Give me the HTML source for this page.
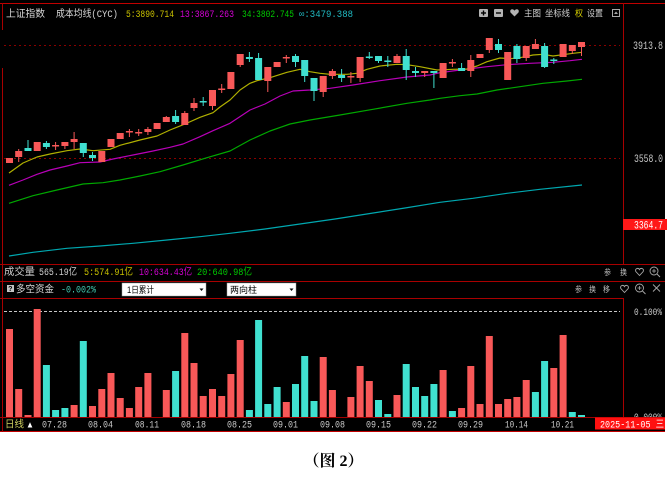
<!DOCTYPE html>
<html><head><meta charset="utf-8"><style>
html,body{margin:0;padding:0;background:#fff;}
svg{display:block;}
text{font-family:"Liberation Mono","Noto Sans CJK SC",monospace;font-size:10px;}
.c{font-family:"Liberation Sans","Noto Sans CJK SC",sans-serif;}
</style></head><body>
<svg width="667" height="479" viewBox="0 0 667 479" xmlns="http://www.w3.org/2000/svg">
<rect width="667" height="479" fill="#fff"/>
<rect x="0" y="0" width="665" height="432" fill="#000"/>

<g stroke="#a80000" stroke-width="1">
<line x1="0" y1="3.5" x2="665" y2="3.5" stroke="#c00000"/>
<line x1="2.5" y1="3" x2="2.5" y2="30"/>
<line x1="2.5" y1="68" x2="2.5" y2="432"/>
<line x1="623.5" y1="3" x2="623.5" y2="264"/>
<line x1="0" y1="264.5" x2="665" y2="264.5"/>
<line x1="0" y1="281.5" x2="665" y2="281.5"/>
<line x1="0" y1="298.5" x2="623" y2="298.5"/>
<line x1="623.5" y1="298" x2="623.5" y2="417"/>
</g>

<g stroke="#8a0000" stroke-width="1" stroke-dasharray="2,3">
<line x1="4" y1="45.5" x2="620" y2="45.5"/>
<line x1="4" y1="158.5" x2="620" y2="158.5"/>
</g>
<line x1="4" y1="311.5" x2="620" y2="311.5" stroke="#c8c8c8" stroke-dasharray="3,2"/>

<text class="c" x="6" y="17" textLength="39" lengthAdjust="spacingAndGlyphs" fill="#d8d8d8">上证指数</text>
<text x="56" y="17" textLength="62" lengthAdjust="spacingAndGlyphs" fill="#d8d8d8">成本均线(CYC)</text>
<text x="126" y="17" textLength="48" lengthAdjust="spacingAndGlyphs" fill="#c8c000">5:3890.714</text>
<text x="180" y="17" textLength="54" lengthAdjust="spacingAndGlyphs" fill="#d400d4">13:3867.263</text>
<text x="242" y="17" textLength="52" lengthAdjust="spacingAndGlyphs" fill="#00c800">34:3802.745</text>
<text x="299" y="17" textLength="54" lengthAdjust="spacingAndGlyphs" fill="#20b8c0">∞:3479.388</text>

<rect x="479" y="9" width="9" height="8" rx="1" fill="#b4b4b4"/>
<line x1="481" y1="13" x2="486" y2="13" stroke="#000" stroke-width="1.4"/>
<line x1="483.5" y1="10.5" x2="483.5" y2="15.5" stroke="#000" stroke-width="1.4"/>
<rect x="494" y="9" width="9" height="8" rx="1" fill="#b4b4b4"/>
<line x1="496" y1="13" x2="501" y2="13" stroke="#000" stroke-width="1.4"/>
<path d="M514.5 16.5 L510.5 12.5 Q509.5 10 511.8 9.3 Q513.5 9 514.5 10.6 Q515.5 9 517.2 9.3 Q519.5 10 518.5 12.5 Z" fill="#b4b4b4"/>
<text class="c" x="524" y="16.5" textLength="17" lengthAdjust="spacingAndGlyphs" fill="#cfcfcf" style="font-size:9px">主图</text>
<text class="c" x="545" y="16.5" textLength="25" lengthAdjust="spacingAndGlyphs" fill="#cfcfcf" style="font-size:9px">坐标线</text>
<text class="c" x="575" y="16.5" textLength="8" lengthAdjust="spacingAndGlyphs" fill="#d8d000" style="font-size:9px">权</text>
<text class="c" x="587" y="16.5" textLength="16" lengthAdjust="spacingAndGlyphs" fill="#cfcfcf" style="font-size:9px">设置</text>
<rect x="612.5" y="9.5" width="7" height="7" fill="none" stroke="#a8a8a8"/>
<path d="M614 14 L616 11.5 L618 14 Z" fill="#a8a8a8"/>

<text x="633" y="49" textLength="30" lengthAdjust="spacingAndGlyphs" fill="#c8c8c8" style="font-size:11px">3913.8</text>
<text x="634" y="162" textLength="29" lengthAdjust="spacingAndGlyphs" fill="#c8c8c8" style="font-size:11px">3558.0</text>
<rect x="623" y="219" width="44" height="11" fill="#ff1818"/>
<text x="634" y="228.5" textLength="29" lengthAdjust="spacingAndGlyphs" fill="#fff" style="font-size:11px">3364.7</text>

<g fill="none" stroke-width="1.2" stroke-linejoin="round">
<polyline stroke="#00a8b0" points="9,256 33,252.3 67,248.3 100,246 133,243.3 167,240 200,236.7 230,233.3 265,229 300,224 335,219 370,213.5 405,208 440,202.3 473,198.3 507,193.3 540,189.3 582,185"/>
<polyline stroke="#00a800" points="9,203.3 33,195.7 57,190 83,184 103,182.7 120,180 140,176 160,171.7 183,165 207,157.7 230,151 250,140 270,131 290,124 310,120 340,115 373,109.3 407,103.3 430,100 440,98.3 460,95.7 477,94 497,90 520,86.7 543,83.3 567,81 582,79.3"/>
<polyline stroke="#b800b8" points="9,185.3 23,180 37,174.3 50,170 67,166 80,162.7 100,162 113,159 133,155 153,151 170,147.3 183,144 200,136.7 213,130.7 230,123.3 250,110 265,104 280,96 293,91 310,90 330,88.3 353,85 380,80.7 407,77 430,75 440,72.7 460,70 487,66.7 507,64.7 530,63.3 553,62.3 570,60.7 582,59.3"/>
<polyline stroke="#b0b000" points="9,173 23,163 37,157 50,154 67,150.7 80,149 93,150.7 110,149.3 120,145.3 140,140 157,136 170,130 185,124 200,117.3 213,112.7 220,107 230,100 240,90 250,83.3 257,80.7 270,77.7 287,72.3 300,69.3 310,71.7 320,73.3 330,74.3 347,74.3 357,73.3 367,69.3 380,66 397,64.3 407,64.7 420,66.7 437,70 453,69.3 467,69 477,66 487,61.7 500,58 510,58.7 520,57.7 533,55 543,54.3 553,56 563,54.7 573,53.3 582,52.3"/>
</g>

<g stroke="#f85858" stroke-width="1">
<line x1="18.7" y1="149" x2="18.7" y2="162"/>
<line x1="55.6" y1="142" x2="55.6" y2="150"/>
<line x1="64.9" y1="142" x2="64.9" y2="149"/>
<line x1="74.1" y1="132" x2="74.1" y2="149"/>
<line x1="129.4" y1="129" x2="129.4" y2="137"/>
<line x1="138.7" y1="129" x2="138.7" y2="136"/>
<line x1="147.9" y1="127" x2="147.9" y2="135"/>
<line x1="166.3" y1="116" x2="166.3" y2="122"/>
<line x1="184.8" y1="111" x2="184.8" y2="125"/>
<line x1="194" y1="98" x2="194" y2="111"/>
<line x1="212.5" y1="90" x2="212.5" y2="110"/>
<line x1="221.7" y1="84" x2="221.7" y2="93"/>
<line x1="240.2" y1="54" x2="240.2" y2="67"/>
<line x1="267.8" y1="67" x2="267.8" y2="92"/>
<line x1="286.3" y1="55" x2="286.3" y2="63"/>
<line x1="323.2" y1="76" x2="323.2" y2="97"/>
<line x1="332.4" y1="69" x2="332.4" y2="79"/>
<line x1="350.9" y1="72" x2="350.9" y2="83"/>
<line x1="360.1" y1="57" x2="360.1" y2="82"/>
<line x1="397" y1="54" x2="397" y2="63"/>
<line x1="424.7" y1="71" x2="424.7" y2="77"/>
<line x1="452.4" y1="59" x2="452.4" y2="67"/>
<line x1="470.8" y1="55" x2="470.8" y2="77"/>
<line x1="489.3" y1="38" x2="489.3" y2="53"/>
<line x1="526.2" y1="46" x2="526.2" y2="61"/>
<line x1="535.4" y1="39" x2="535.4" y2="49"/>
<line x1="572.3" y1="45" x2="572.3" y2="54"/>
<line x1="581.5" y1="42" x2="581.5" y2="56"/>
</g>
<g fill="#f85858">
<rect x="6" y="158" width="7" height="5"/>
<rect x="15.2" y="151" width="7" height="6"/>
<rect x="33.7" y="142" width="7" height="9"/>
<rect x="52.1" y="145" width="7" height="1.5"/>
<rect x="61.4" y="142" width="7" height="4"/>
<rect x="70.6" y="139" width="7" height="3"/>
<rect x="98.3" y="151" width="7" height="11"/>
<rect x="107.5" y="139" width="7" height="8"/>
<rect x="116.7" y="133" width="7" height="6"/>
<rect x="125.9" y="131" width="7" height="1.5"/>
<rect x="135.2" y="132" width="7" height="1.5"/>
<rect x="144.4" y="129" width="7" height="3"/>
<rect x="153.6" y="123" width="7" height="6"/>
<rect x="162.8" y="117" width="7" height="5"/>
<rect x="181.3" y="113" width="7" height="12"/>
<rect x="190.5" y="103" width="7" height="5"/>
<rect x="209" y="90" width="7" height="16"/>
<rect x="218.2" y="88.5" width="7" height="1.5"/>
<rect x="227.4" y="72" width="7" height="17"/>
<rect x="236.7" y="54" width="7" height="11"/>
<rect x="264.3" y="67" width="7" height="14"/>
<rect x="273.6" y="62" width="7" height="5"/>
<rect x="282.8" y="57" width="7" height="1.5"/>
<rect x="319.7" y="76" width="7" height="16"/>
<rect x="328.9" y="71" width="7" height="5"/>
<rect x="347.4" y="76" width="7" height="1.5"/>
<rect x="356.6" y="57" width="7" height="21"/>
<rect x="393.5" y="56" width="7" height="7"/>
<rect x="421.2" y="71" width="7" height="2"/>
<rect x="439.6" y="63" width="7" height="15"/>
<rect x="448.9" y="62" width="7" height="1.5"/>
<rect x="467.3" y="60" width="7" height="11"/>
<rect x="476.5" y="54" width="7" height="4"/>
<rect x="485.8" y="38" width="7" height="12"/>
<rect x="504.2" y="52" width="7" height="28"/>
<rect x="522.7" y="46" width="7" height="12"/>
<rect x="531.9" y="44" width="7" height="5"/>
<rect x="559.6" y="44" width="7" height="13"/>
<rect x="568.8" y="45" width="7" height="6"/>
<rect x="578" y="42" width="7" height="5"/>
</g>

<g stroke="#40e0d0" stroke-width="1">
<line x1="28" y1="140" x2="28" y2="151"/>
<line x1="46.4" y1="141" x2="46.4" y2="149"/>
<line x1="83.3" y1="143" x2="83.3" y2="157"/>
<line x1="92.5" y1="152" x2="92.5" y2="161"/>
<line x1="175.6" y1="110" x2="175.6" y2="124"/>
<line x1="203.2" y1="97" x2="203.2" y2="106"/>
<line x1="249.4" y1="52" x2="249.4" y2="62"/>
<line x1="258.6" y1="53" x2="258.6" y2="80"/>
<line x1="295.5" y1="54" x2="295.5" y2="67"/>
<line x1="304.7" y1="60" x2="304.7" y2="82"/>
<line x1="314" y1="78" x2="314" y2="101"/>
<line x1="341.6" y1="69" x2="341.6" y2="82"/>
<line x1="369.3" y1="52" x2="369.3" y2="59"/>
<line x1="378.5" y1="56" x2="378.5" y2="63"/>
<line x1="387.8" y1="56" x2="387.8" y2="67"/>
<line x1="406.2" y1="49" x2="406.2" y2="80"/>
<line x1="415.5" y1="67" x2="415.5" y2="77"/>
<line x1="433.9" y1="71" x2="433.9" y2="88"/>
<line x1="461.6" y1="63" x2="461.6" y2="71"/>
<line x1="498.5" y1="39" x2="498.5" y2="53"/>
<line x1="516.9" y1="44" x2="516.9" y2="63"/>
<line x1="544.6" y1="43" x2="544.6" y2="68"/>
<line x1="553.8" y1="58" x2="553.8" y2="64"/>
</g>
<g fill="#40e0d0">
<rect x="24.5" y="148" width="7" height="3"/>
<rect x="42.9" y="143" width="7" height="4"/>
<rect x="79.8" y="143" width="7" height="10"/>
<rect x="89" y="155" width="7" height="3"/>
<rect x="172.1" y="116" width="7" height="6"/>
<rect x="199.7" y="101" width="7" height="1.5"/>
<rect x="245.9" y="57" width="7" height="2"/>
<rect x="255.1" y="58" width="7" height="22"/>
<rect x="292" y="56" width="7" height="6"/>
<rect x="301.2" y="60" width="7" height="16"/>
<rect x="310.5" y="78" width="7" height="13"/>
<rect x="338.1" y="75" width="7" height="3"/>
<rect x="365.8" y="56.5" width="7" height="1.5"/>
<rect x="375" y="56" width="7" height="5"/>
<rect x="384.3" y="60.5" width="7" height="1.5"/>
<rect x="402.7" y="56" width="7" height="14"/>
<rect x="412" y="71" width="7" height="2"/>
<rect x="430.4" y="71" width="7" height="2"/>
<rect x="458.1" y="68" width="7" height="3"/>
<rect x="495" y="44" width="7" height="6"/>
<rect x="513.4" y="46" width="7" height="13"/>
<rect x="541.1" y="46" width="7" height="21"/>
<rect x="550.3" y="59.5" width="7" height="1.5"/>
</g>

<text class="c" x="4" y="275" textLength="31" lengthAdjust="spacingAndGlyphs" fill="#cfcfcf">成交量</text>
<text x="39" y="275" textLength="38" lengthAdjust="spacingAndGlyphs" fill="#cfcfcf">565.19亿</text>
<text x="84" y="275" textLength="49" lengthAdjust="spacingAndGlyphs" fill="#c8c000">5:574.91亿</text>
<text x="139" y="275" textLength="53" lengthAdjust="spacingAndGlyphs" fill="#d400d4">10:634.43亿</text>
<text x="197" y="275" textLength="55" lengthAdjust="spacingAndGlyphs" fill="#00c800">20:640.98亿</text>
<text class="c" x="604" y="275" textLength="7" lengthAdjust="spacingAndGlyphs" fill="#bdbdbd" style="font-size:8px">参</text>
<text class="c" x="620" y="275" textLength="7" lengthAdjust="spacingAndGlyphs" fill="#bdbdbd" style="font-size:8px">换</text>
<path d="M639.5 275.5 L635.8 271.5 Q635 269 637.2 268.4 Q638.8 268.2 639.5 269.6 Q640.2 268.2 641.8 268.4 Q644 269 643.2 271.5 Z" fill="none" stroke="#a8a8a8" stroke-width="0.9"/>
<circle cx="654" cy="271" r="4" fill="none" stroke="#a8a8a8" stroke-width="0.9"/>
<line x1="652" y1="271" x2="656" y2="271" stroke="#a8a8a8" stroke-width="0.8"/>
<line x1="654" y1="269" x2="654" y2="273" stroke="#a8a8a8" stroke-width="0.8"/>
<line x1="657" y1="274" x2="660" y2="277" stroke="#a8a8a8" stroke-width="0.9"/>

<rect x="7" y="285" width="7" height="7" fill="#c4c4c4"/>
<text x="8.2" y="291.2" fill="#000" style="font-size:7px;font-weight:bold">?</text>
<text class="c" x="16" y="292.5" textLength="38" lengthAdjust="spacingAndGlyphs" fill="#d8d8d8">多空资金</text>
<text x="61" y="292.5" textLength="35" lengthAdjust="spacingAndGlyphs" fill="#40c8b0">-0.002%</text>
<rect x="122" y="283" width="84" height="13" fill="#fff" stroke="#999" stroke-width="0.5"/>
<text class="c" x="127" y="293" textLength="27" lengthAdjust="spacingAndGlyphs" fill="#000" style="font-size:9px">1日累计</text>
<path d="M199.5 288.5 L203.5 288.5 L201.5 291 Z" fill="#000"/>
<rect x="227" y="283" width="69" height="13" fill="#fff" stroke="#999" stroke-width="0.5"/>
<text class="c" x="230" y="293" textLength="27" lengthAdjust="spacingAndGlyphs" fill="#000" style="font-size:9px">两向柱</text>
<path d="M289.5 288.5 L293.5 288.5 L291.5 291 Z" fill="#000"/>
<text class="c" x="575" y="292" textLength="7" lengthAdjust="spacingAndGlyphs" fill="#bdbdbd" style="font-size:8px">参</text>
<text class="c" x="589" y="292" textLength="7" lengthAdjust="spacingAndGlyphs" fill="#bdbdbd" style="font-size:8px">换</text>
<text class="c" x="603" y="292" textLength="7" lengthAdjust="spacingAndGlyphs" fill="#bdbdbd" style="font-size:8px">移</text>
<path d="M624.5 292.5 L620.8 288.5 Q620 286 622.2 285.4 Q623.8 285.2 624.5 286.6 Q625.2 285.2 626.8 285.4 Q629 286 628.2 288.5 Z" fill="none" stroke="#a8a8a8" stroke-width="0.9"/>
<circle cx="639.5" cy="288" r="4" fill="none" stroke="#a8a8a8" stroke-width="0.9"/>
<line x1="637.5" y1="288" x2="641.5" y2="288" stroke="#a8a8a8" stroke-width="0.8"/>
<line x1="639.5" y1="286" x2="639.5" y2="290" stroke="#a8a8a8" stroke-width="0.8"/>
<line x1="642.5" y1="291" x2="645.5" y2="294" stroke="#a8a8a8" stroke-width="0.9"/>
<line x1="653" y1="284.5" x2="660" y2="291.5" stroke="#a8a8a8" stroke-width="0.9"/>
<line x1="660" y1="284.5" x2="653" y2="291.5" stroke="#a8a8a8" stroke-width="0.9"/>

<text x="634" y="315" textLength="28" lengthAdjust="spacingAndGlyphs" fill="#c8c8c8">0.100%</text>
<text x="634" y="420" textLength="28" lengthAdjust="spacingAndGlyphs" fill="#c8c8c8">0.000%</text>

<g fill="#f85858">
<rect x="6" y="329" width="7" height="88"/>
<rect x="15.2" y="389" width="7" height="28"/>
<rect x="24.5" y="415" width="7" height="2"/>
<rect x="33.7" y="309" width="7" height="108"/>
<rect x="70.6" y="405" width="7" height="12"/>
<rect x="89" y="406" width="7" height="11"/>
<rect x="98.3" y="389" width="7" height="28"/>
<rect x="107.5" y="373" width="7" height="44"/>
<rect x="116.7" y="398" width="7" height="19"/>
<rect x="125.9" y="408" width="7" height="9"/>
<rect x="135.2" y="387" width="7" height="30"/>
<rect x="144.4" y="373" width="7" height="44"/>
<rect x="162.8" y="390" width="7" height="27"/>
<rect x="181.3" y="333" width="7" height="84"/>
<rect x="190.5" y="363" width="7" height="54"/>
<rect x="199.7" y="396" width="7" height="21"/>
<rect x="209" y="389" width="7" height="28"/>
<rect x="218.2" y="396" width="7" height="21"/>
<rect x="227.4" y="374" width="7" height="43"/>
<rect x="236.7" y="340" width="7" height="77"/>
<rect x="282.8" y="402" width="7" height="15"/>
<rect x="319.7" y="357" width="7" height="60"/>
<rect x="328.9" y="390" width="7" height="27"/>
<rect x="347.4" y="397" width="7" height="20"/>
<rect x="356.6" y="366" width="7" height="51"/>
<rect x="365.8" y="381" width="7" height="36"/>
<rect x="393.5" y="395" width="7" height="22"/>
<rect x="439.6" y="370" width="7" height="47"/>
<rect x="458.1" y="408" width="7" height="9"/>
<rect x="467.3" y="366" width="7" height="51"/>
<rect x="476.5" y="404" width="7" height="13"/>
<rect x="485.8" y="336" width="7" height="81"/>
<rect x="495" y="404" width="7" height="13"/>
<rect x="504.2" y="399" width="7" height="18"/>
<rect x="513.4" y="397" width="7" height="20"/>
<rect x="522.7" y="380" width="7" height="37"/>
<rect x="550.3" y="368" width="7" height="49"/>
<rect x="559.6" y="335" width="7" height="82"/>
</g>
<g fill="#40e0d0">
<rect x="42.9" y="365" width="7" height="52"/>
<rect x="52.1" y="410" width="7" height="7"/>
<rect x="61.4" y="408" width="7" height="9"/>
<rect x="79.8" y="341" width="7" height="76"/>
<rect x="172.1" y="371" width="7" height="46"/>
<rect x="245.9" y="410" width="7" height="7"/>
<rect x="255.1" y="320" width="7" height="97"/>
<rect x="264.3" y="404" width="7" height="13"/>
<rect x="273.6" y="387" width="7" height="30"/>
<rect x="292" y="384" width="7" height="33"/>
<rect x="301.2" y="356" width="7" height="61"/>
<rect x="310.5" y="401" width="7" height="16"/>
<rect x="375" y="400" width="7" height="17"/>
<rect x="384.3" y="414" width="7" height="3"/>
<rect x="402.7" y="364" width="7" height="53"/>
<rect x="412" y="387" width="7" height="30"/>
<rect x="421.2" y="396" width="7" height="21"/>
<rect x="430.4" y="384" width="7" height="33"/>
<rect x="448.9" y="411" width="7" height="6"/>
<rect x="531.9" y="392" width="7" height="25"/>
<rect x="541.1" y="361" width="7" height="56"/>
<rect x="568.8" y="412" width="7" height="5"/>
<rect x="578" y="415" width="7" height="2"/>
</g>

<rect x="0" y="417.5" width="665" height="14" fill="#000"/>
<line x1="0" y1="417.5" x2="665" y2="417.5" stroke="#a00000"/>
<line x1="0" y1="431.5" x2="665" y2="431.5" stroke="#c00000"/>
<line x1="2.5" y1="417" x2="2.5" y2="432" stroke="#a00000"/>
<text class="c" x="5" y="427.5" textLength="19" lengthAdjust="spacingAndGlyphs" fill="#d0d060">日线</text>
<text class="c" x="26" y="427.5" textLength="8" lengthAdjust="spacingAndGlyphs" fill="#fff" style="font-size:9px">▲</text>
<g fill="#c8c8c8">
<text x="42" y="427.5" textLength="25" lengthAdjust="spacingAndGlyphs">07.28</text>
<text x="88" y="427.5" textLength="25" lengthAdjust="spacingAndGlyphs">08.04</text>
<text x="135" y="427.5" textLength="24" lengthAdjust="spacingAndGlyphs">08.11</text>
<text x="181" y="427.5" textLength="25" lengthAdjust="spacingAndGlyphs">08.18</text>
<text x="227" y="427.5" textLength="25" lengthAdjust="spacingAndGlyphs">08.25</text>
<text x="273" y="427.5" textLength="25" lengthAdjust="spacingAndGlyphs">09.01</text>
<text x="320" y="427.5" textLength="25" lengthAdjust="spacingAndGlyphs">09.08</text>
<text x="366" y="427.5" textLength="25" lengthAdjust="spacingAndGlyphs">09.15</text>
<text x="412" y="427.5" textLength="25" lengthAdjust="spacingAndGlyphs">09.22</text>
<text x="458" y="427.5" textLength="25" lengthAdjust="spacingAndGlyphs">09.29</text>
<text x="505" y="427.5" textLength="23" lengthAdjust="spacingAndGlyphs">10.14</text>
<text x="551" y="427.5" textLength="23" lengthAdjust="spacingAndGlyphs">10.21</text>
</g>
<rect x="595" y="417.5" width="70" height="12" fill="#ff1010"/>
<text x="600" y="427.5" textLength="64" lengthAdjust="spacingAndGlyphs" fill="#fff">2025-11-05 三</text>

<text x="333.5" y="466" text-anchor="middle" fill="#000" style="font-family:'Liberation Serif','Noto Serif CJK SC',serif;font-size:16px;font-weight:bold">（图 2）</text>
</svg>
</body></html>
